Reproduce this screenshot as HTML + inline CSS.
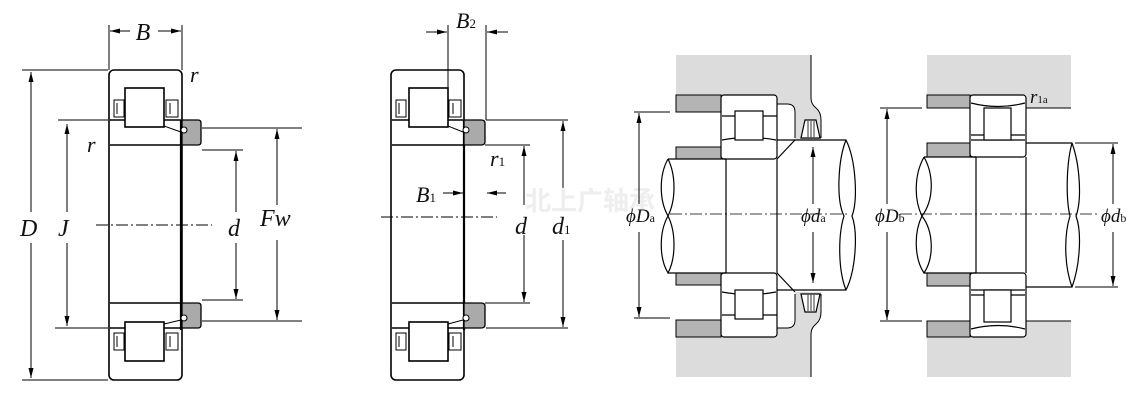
<!DOCTYPE html>
<html><head><meta charset="utf-8"><style>
html,body{margin:0;padding:0;background:#fff}
svg{display:block}
text{font-family:"Liberation Serif",serif;font-style:italic;fill:#111}
.s{font-style:normal}
</style></head><body>
<svg width="1147" height="400" viewBox="0 0 1147 400" xmlns="http://www.w3.org/2000/svg">
<defs>
<marker id="a" viewBox="0 0 10 6" refX="10" refY="3" markerWidth="10" markerHeight="6" orient="auto-start-reverse" markerUnits="userSpaceOnUse"><path d="M0,0.5 L10,3 L0,5.5 z" fill="#000"/></marker>
</defs>
<g stroke="#000" fill="none" stroke-width="1">
<!-- ===== LEFT BEARING ===== -->
<g stroke-width="1.6">
<rect x="109" y="70" width="73" height="310" rx="5" fill="#fff"/>
<path d="M110,120 H181 M110,145 H181 M110,303 H181 M110,328 H181"/>
<rect x="125" y="88" width="39" height="39" fill="#fff"/>
<rect x="125" y="322" width="39" height="39" fill="#fff"/>
<path d="M181,120 V330" stroke-width="2.2"/>
</g>
<path d="M114,100 H124 V117 H114 z M117,103 V114 M166,100 H178 V117 H166 z M170,103 V114"/>
<path d="M114,333 H124 V350 H114 z M117,336 V347 M166,333 H178 V350 H166 z M170,336 V347"/>
<path d="M182,120 H198 Q201,120 201,123 V142 Q201,145 198,145 H182 z" fill="#aaa" stroke-width="1.3"/>
<path d="M182,303 H198 Q201,303 201,306 V325 Q201,328 198,328 H182 z" fill="#aaa" stroke-width="1.3"/>
<circle cx="184" cy="130" r="3" fill="#fff"/><path d="M164,126 L181,132"/>
<circle cx="184" cy="318" r="3" fill="#fff"/><path d="M164,324 L181,320"/>
<path d="M96,225 H212" stroke-dasharray="12,3,2,3"/>
<path d="M22,70 H108 M22,380 H108"/>
<line x1="31" y1="212" x2="31" y2="72" marker-end="url(#a)"/>
<line x1="31" y1="243" x2="31" y2="378" marker-end="url(#a)"/>
<path d="M58,120 H108 M55,328 H108"/>
<line x1="67" y1="212" x2="67" y2="124" marker-end="url(#a)"/>
<line x1="67" y1="243" x2="67" y2="326" marker-end="url(#a)"/>
<path d="M109,25 V70 M182,25 V70"/>
<line x1="130" y1="31" x2="110" y2="31" marker-end="url(#a)"/>
<line x1="158" y1="31" x2="181" y2="31" marker-end="url(#a)"/>
<path d="M202,150 H243 M202,300 H243"/>
<line x1="236" y1="212" x2="236" y2="151" marker-end="url(#a)"/>
<line x1="236" y1="243" x2="236" y2="299" marker-end="url(#a)"/>
<path d="M202,128 H302 M202,321 H302"/>
<line x1="277" y1="205" x2="277" y2="129" marker-end="url(#a)"/>
<line x1="277" y1="240" x2="277" y2="320" marker-end="url(#a)"/>

<!-- ===== MIDDLE BEARING ===== -->
<g stroke-width="1.6">
<rect x="391" y="70" width="73" height="310" rx="5" fill="#fff"/>
<path d="M392,120 H463 M392,145 H463 M392,303 H463 M392,328 H463"/>
<rect x="409" y="88" width="39" height="39" fill="#fff"/>
<rect x="409" y="322" width="39" height="39" fill="#fff"/>
<path d="M464,120 V330" stroke-width="2.2"/>
</g>
<path d="M396,100 H406 V117 H396 z M399,103 V114 M449,100 H461 V117 H449 z M453,103 V114"/>
<path d="M396,333 H406 V350 H396 z M399,336 V347 M449,333 H461 V350 H449 z M453,336 V347"/>
<path d="M464,120 H481 Q485,120 485,123 V142 Q485,145 481,145 H464 z" fill="#aaa" stroke-width="1.3"/>
<path d="M464,303 H481 Q485,303 485,306 V325 Q485,328 481,328 H464 z" fill="#aaa" stroke-width="1.3"/>
<circle cx="466" cy="130" r="3" fill="#fff"/><path d="M448,126 L463,132"/>
<circle cx="466" cy="318" r="3" fill="#fff"/><path d="M448,324 L463,320"/>
<path d="M381,217 H497" stroke-dasharray="12,3,2,3"/>
<path d="M448,25 V125 M486,25 V120"/>
<line x1="426" y1="32" x2="447" y2="32" marker-end="url(#a)"/>
<line x1="508" y1="32" x2="487" y2="32" marker-end="url(#a)"/>
<line x1="443" y1="193" x2="463" y2="193" marker-end="url(#a)"/>
<line x1="506" y1="193" x2="487" y2="193" marker-end="url(#a)"/>
<path d="M485,145 H530 M485,303 H530"/>
<line x1="524" y1="205" x2="524" y2="146" marker-end="url(#a)"/>
<line x1="524" y1="235" x2="524" y2="302" marker-end="url(#a)"/>
<path d="M486,120 H568 M486,328 H568"/>
<line x1="563" y1="205" x2="563" y2="121" marker-end="url(#a)"/>
<line x1="563" y1="240" x2="563" y2="327" marker-end="url(#a)"/>
</g>

<text x="590" y="210" text-anchor="middle" style="font-family:'Noto Sans CJK SC',sans-serif;font-style:normal;font-weight:bold;font-size:26px;fill:#eeeeee">北上广轴承</text>

<!-- ===== RIGHT PANEL A ===== -->
<g stroke="#000" stroke-width="1" fill="none">
<path d="M676,55 H811 V98 Q811,104 816,108 Q821,112 821,120 V140 H795 V112 Q795,104 787,104 H777 V95 H676 z" fill="#dcdcdc" stroke="none"/>
<path d="M676,377 H811 V334 Q811,328 816,324 Q821,320 821,312 V292 H795 V320 Q795,328 787,328 H777 V337 H676 z" fill="#dcdcdc" stroke="none"/>
<path d="M811,55 V98 Q811,104 816,108 Q821,112 821,120 V138 M811,377 V334 Q811,328 816,324 Q821,320 821,312 V294"/>
<path d="M777,104 H787 Q795,104 795,112 V138 M777,328 H787 Q795,328 795,320 V294"/>
<g fill="#b4b4b4"><rect x="676" y="95" width="45" height="17"/><rect x="676" y="147" width="45" height="12"/><rect x="676" y="273" width="45" height="12"/><rect x="676" y="320" width="45" height="17"/></g>
<g stroke-width="1.2">
<rect x="721" y="95" width="56" height="64" rx="3" fill="#fff"/>
<rect x="721" y="273" width="56" height="64" rx="3" fill="#fff"/>
<path d="M722,140 Q749,135 776,140 M722,292 Q749,297 776,292 M722,116 H735 M763,116 H777 M722,315 H735 M763,315 H777"/>
<rect x="735" y="111" width="28" height="29" fill="#fff"/>
<rect x="735" y="290" width="28" height="29" fill="#fff"/>
<path d="M726,159 V273 M777,159 V273"/>
<path d="M726,159 H668 M726,273 H668"/>
<path d="M668,159 C659,175 659,200 668,216 C676,232 676,258 668,273 C659,258 659,232 668,216 C676,200 676,175 668,159"/>
<path d="M777,140 H846 C856,160 858,200 852,216 C858,232 856,270 846,290 H777"/>
<path d="M846,140 C838,160 836,200 844,216 C838,235 838,270 846,290"/>
<path d="M777,159 L795,140 M777,273 L795,292"/>
<path d="M801,138 L805,120 H816 L820,138 z M801,294 L805,312 H816 L820,294 z" fill="#fff"/>
<path d="M808,121 V137 M811,121 V137 M814,121 V137 M808,295 V311 M811,295 V311 M814,295 V311" stroke-width="0.8"/>
</g>
<path d="M670,214 H850" stroke-dasharray="12,3,2,3" stroke-width="0.8"/>
<path d="M634,112 H670 M634,318 H670"/>
<line x1="639" y1="204" x2="639" y2="113" marker-end="url(#a)"/>
<line x1="639" y1="232" x2="639" y2="317" marker-end="url(#a)"/>
<line x1="813" y1="204" x2="813" y2="147" marker-end="url(#a)"/>
<line x1="813" y1="232" x2="813" y2="283" marker-end="url(#a)"/>
</g>

<!-- ===== RIGHT PANEL B ===== -->
<g stroke="#000" stroke-width="1" fill="none">
<path d="M927,55 H1071 V108 H1026 V95 H927 z" fill="#dcdcdc" stroke="none"/>
<path d="M927,377 H1071 V321 H1026 V337 H927 z" fill="#dcdcdc" stroke="none"/>
<path d="M1026,108 H1071 M1026,321 H1071"/>
<g fill="#b4b4b4"><rect x="927" y="95" width="43" height="13"/><rect x="927" y="143" width="43" height="14"/><rect x="927" y="273" width="43" height="13"/><rect x="927" y="321" width="43" height="16"/></g>
<g stroke-width="1.2">
<rect x="970" y="95" width="56" height="62" rx="3" fill="#fff"/>
<rect x="970" y="273" width="56" height="64" rx="3" fill="#fff"/>
<path d="M971,103 Q998,110 1025,103 M971,329 Q998,322 1025,329 M971,135 H984 M1011,135 H1025 M971,295 H984 M1011,295 H1025 M971,140 H1025 M971,290 H1025"/>
<rect x="984" y="108" width="27" height="32" fill="#fff"/>
<rect x="984" y="290" width="27" height="32" fill="#fff"/>
<path d="M976,157 V273 M1026,157 V273"/>
<path d="M976,157 H924 M976,273 H924"/>
<path d="M924,157 C914,175 914,200 922,216 C914,232 914,258 924,273 C934,258 934,232 922,216 M924,157 C934,175 934,200 922,216"/>
<path d="M1026,143 H1072 C1080,165 1082,200 1076,216 C1082,232 1080,265 1072,287 H1026"/>
<path d="M1072,143 C1066,165 1066,200 1070,216 C1064,235 1064,265 1072,287"/>
</g>
<path d="M900,214 H1100" stroke-dasharray="12,3,2,3" stroke-width="0.8"/>
<path d="M880,108 H922 M880,321 H922"/>
<line x1="887" y1="204" x2="887" y2="109" marker-end="url(#a)"/>
<line x1="887" y1="232" x2="887" y2="320" marker-end="url(#a)"/>
<path d="M1075,143 H1118 M1075,287 H1118"/>
<line x1="1113" y1="204" x2="1113" y2="144" marker-end="url(#a)"/>
<line x1="1113" y1="232" x2="1113" y2="286" marker-end="url(#a)"/>
</g>

<!-- labels -->
<g font-size="24">
<text x="143" y="40" text-anchor="middle">B</text>
<text x="190" y="82" font-size="22">r</text>
<text x="87" y="152" font-size="22">r</text>
<text x="20" y="236">D</text>
<text x="58" y="236">J</text>
<text x="228" y="236">d</text>
<text x="260" y="226">Fw</text>
<text x="456" y="28" font-size="22">B<tspan class="s" font-size="13">2</tspan></text>
<text x="490" y="166" font-size="22">r<tspan class="s" font-size="13">1</tspan></text>
<text x="416" y="202" font-size="22">B<tspan class="s" font-size="13">1</tspan></text>
<text x="515" y="234">d</text>
<text x="552" y="234">d<tspan class="s" font-size="13">1</tspan></text>
</g>
<g font-size="19">
<text x="626" y="222">ϕD<tspan class="s" font-size="12">a</tspan></text>
<text x="801" y="222">ϕd<tspan class="s" font-size="12">a</tspan></text>
<text x="875" y="222">ϕD<tspan class="s" font-size="12">b</tspan></text>
<text x="1101" y="222">ϕd<tspan class="s" font-size="12">b</tspan></text>
<text x="1030" y="103">r<tspan class="s" font-size="11">1a</tspan></text>
</g>
</svg>
</body></html>
